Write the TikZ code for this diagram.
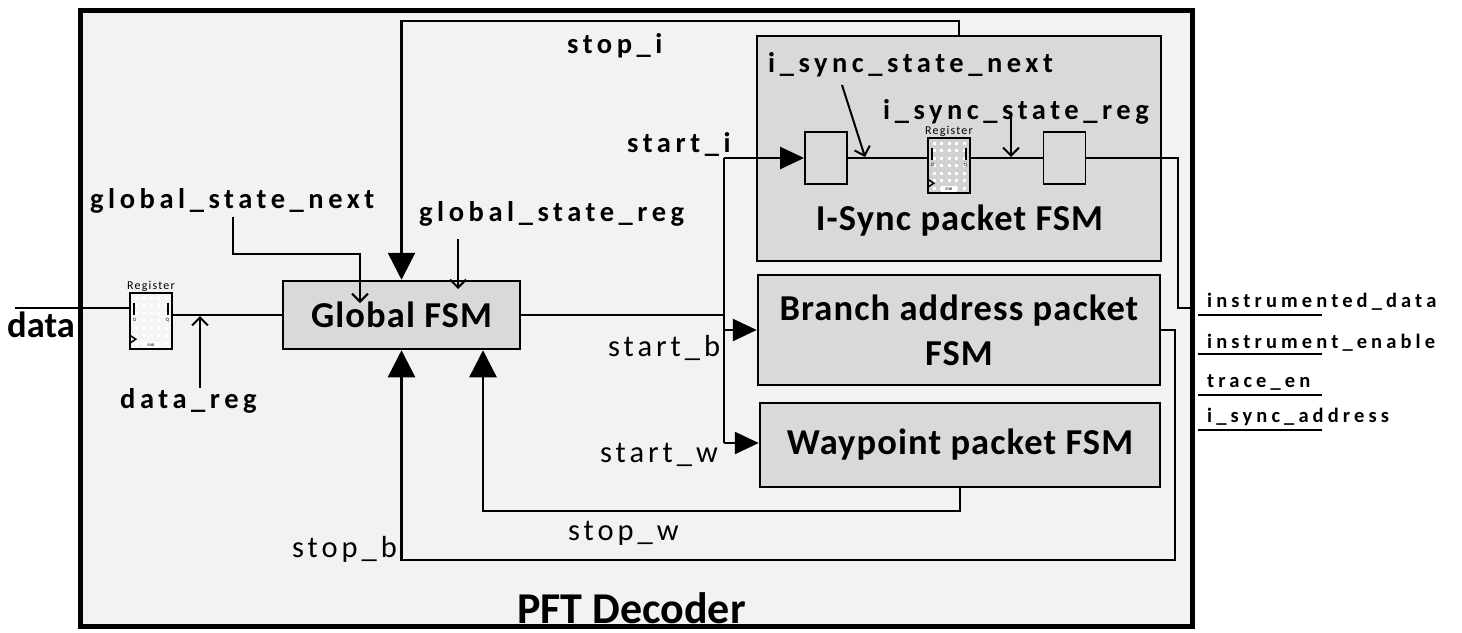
\documentclass[tikz,border=0pt]{standalone}
\usepackage{fontspec}
\setmainfont{Carlito}
\usetikzlibrary{arrows.meta,calc}
\definecolor{bgc}{HTML}{F2F2F2}
\definecolor{boxc}{HTML}{D9D9D9}
\newcommand\regicon[2]{%
  \fill[#2] (#1.north west) rectangle (#1.south east);
  \foreach \i in {0,...,4}{\foreach \j in {0,...,6}{\fill[white] ($(#1.north west)+(5+\i*7.5,4+\j*7.5)$) rectangle ++(3,3);}}
  \draw[line width=2pt] (#1.north west) rectangle (#1.south east);
  \draw[line width=2.5pt] ($(#1.north west)+(4,10)$) -- ++(0,12);
  \draw[line width=2.5pt] ($(#1.north east)+(-4,10)$) -- ++(0,12);
  \node[font=\fontsize{5}{5}\selectfont, inner sep=0] at ($(#1.north west)+(5,27)$) {D};
  \node[font=\fontsize{5}{5}\selectfont, inner sep=0] at ($(#1.north east)+(-5,27)$) {Q};
  \fill[white] ($(#1.south)+(-8,-7)$) rectangle ($(#1.south)+(8,-1)$);
  \node[font=\fontsize{4}{4}\selectfont, inner sep=0] at ($(#1.south)+(0,-4)$) {ENB};
  \draw[line width=1.5pt] ($(#1.south west)+(0,-14)$) -- ++(6,4) -- ++(-6,4);
  \node[font=\fontsize{12}{12}\selectfont\addfontfeatures{LetterSpace=10}, anchor=south, inner sep=1pt] at (#1.north) {Register};
}
\begin{document}
\begin{tikzpicture}[x=1pt,y=-1pt,
  fsm/.style={draw, line width=2.5pt, fill=boxc, inner sep=0, align=center,
    font=\fontsize{36.5}{45}\selectfont\bfseries\addfontfeatures{LetterSpace=3}},
  small/.style={draw, line width=1.8pt, fill=boxc, inner sep=0, minimum width=42pt, minimum height=52pt},
  regbox/.style={inner sep=0, minimum width=42pt, minimum height=56pt},
  lab/.style={inner sep=0, anchor=base west, font=\fontsize{28.5}{31}\selectfont\bfseries\addfontfeatures{LetterSpace=16}},
  labn/.style={inner sep=0, anchor=base west, font=\fontsize{30.5}{33}\selectfont\addfontfeatures{LetterSpace=13}},
  outl/.style={inner sep=0, anchor=base west, font=\fontsize{20.5}{22}\selectfont\bfseries\addfontfeatures{LetterSpace=20}},
  wire/.style={line width=2.5pt},
  thinw/.style={line width=2pt},
  big/.style={-{Triangle[length=27pt,width=27pt]}},
  mid/.style={-{Triangle[length=24pt,width=22pt]}},
  openh/.style={-{Straight Barb[length=8pt,width=16pt]}}
]
\useasboundingbox (0,0) rectangle (1462,632);
% outer frame
\node[draw, line width=5pt, fill=bgc, minimum width=1112pt, minimum height=616pt, inner sep=0] (pft) at (636,318) {};
\node[inner sep=0, anchor=base west, font=\fontsize{44}{50}\selectfont\bfseries] (pftl) at (517,623) {PFT Decoder};

% blocks
\node[fsm, minimum width=237pt, minimum height=68pt] (gfsm) at (401.5,315) {Global FSM};
\node[fsm, minimum width=404pt, minimum height=225pt] (isync) at (959,148.5) {};
\node[fsm, minimum width=402pt, minimum height=110pt] (branch) at (959,330) {Branch address packet\\FSM};
\node[fsm, minimum width=400pt, minimum height=84pt] (wayp) at (960,445) {Waypoint packet FSM};
\node[inner sep=0, anchor=base, font=\fontsize{36.5}{45}\selectfont\bfseries\addfontfeatures{LetterSpace=3}] (isl) at (959.5,230) {I-Sync packet FSM};
\node[small] (ra) at (826,158) {};
\node[small] (rc) at (1064.5,158) {};
\node[regbox] (reg1) at (151,321) {};
\node[regbox, minimum height=55pt] (reg2) at (949,165.5) {};
\regicon{reg1}{white!96!black}
\regicon{reg2}{white!82!black}

% labels
\node[inner sep=0, anchor=base west, font=\fontsize{36.5}{40}\selectfont\bfseries] (ldata) at (7,337) {data};
\node[lab] (ldreg) at (120,408) {data\_reg};
\node[lab] (lgsn) at (90,208) {global\_state\_next};
\node[lab] (lgsr) at (419,221) {global\_state\_reg};
\node[lab] (lstopi) at (567,53) {stop\_i};
\node[lab] (lstarti) at (627,152) {start\_i};
\node[lab] (lisn) at (768,72) {i\_sync\_state\_next};
\node[lab] (lisr) at (883,119) {i\_sync\_state\_reg};
\node[labn] (lstartb) at (608,356) {start\_b};
\node[labn] (lstartw) at (600,462) {start\_w};
\node[labn] (lstopw) at (568,540) {stop\_w};
\node[labn] (lstopb) at (292,557) {stop\_b};

% coordinates
\coordinate (dataIn) at (15,308);
\coordinate (drT) at (200,388); \coordinate (drH) at (200,316);
\coordinate (gsnA) at (233,217); \coordinate (gsnB) at (360,254); \coordinate (gsnC) at (360,303);
\coordinate (gsrA) at (458,239); \coordinate (gsrB) at (458,289);
\coordinate (stopiC) at (401.5,21);
\coordinate (busT) at (724,158); \coordinate (busB) at (724,443);
\coordinate (swC) at (483,511);
\coordinate (sbA) at (1175,560); \coordinate (sbB) at (401.5,560);
\coordinate (isoA) at (1178,308);
\coordinate (isnA) at (842,85); \coordinate (isnB) at (865,157);
\coordinate (isrA) at (1011,117); \coordinate (isrB) at (1011,157);

% connectors
\draw[wire] (dataIn) -- (dataIn -| reg1.west);
\draw[wire] (reg1.east |- gfsm.west) -- (gfsm.west);
\draw[thinw,openh] (drT) -- (drH);
\draw[wire] (gfsm.east) -- (gfsm.east -| busT);
\draw[wire] (busT) -- (busB);
\draw[wire,mid] (busT) -- (ra.west);
\draw[wire,mid] (busT |- branch.west) -- (branch.west);
\draw[wire,mid] (busB) -- (busB -| wayp.west);
\draw[wire,big] (isync.north) |- (stopiC) -- (gfsm.north);
\draw[thinw,openh] (gsnA) |- (gsnB) -- (gsnC);
\draw[thinw,openh] (gsrA) -- (gsrB);
\draw[wire,big] (wayp.south) |- (swC) -- (swC |- gfsm.south);
\draw[wire,big] (branch.east) -| (sbA) -- (sbB) -- (gfsm.south);
\draw[wire] (ra.east) -- (ra.east -| reg2.west);
\draw[wire] (reg2.east |- rc.west) -- (rc.west);
\draw[wire] (rc.east) -| (isoA) -- (isoA -| pft.east);
\draw[thinw,openh] (isnA) -- (isnB);
\draw[thinw,openh] (isrA) -- (isrB);

% outputs
\node[outl] (o1) at (1207,307) {instrumented\_data};
\node[outl] (o2) at (1207,348) {instrument\_enable};
\node[outl] (o3) at (1207,387) {trace\_en};
\node[outl] (o4) at (1207,422) {i\_sync\_address};
\foreach \n/\y in {1/315,2/354,3/395,4/430}{
  \coordinate (oa\n) at (1198,\y); \coordinate (ob\n) at (1322,\y);
  \draw[line width=2pt] (oa\n) -- (ob\n);
}
\end{tikzpicture}
\end{document}
